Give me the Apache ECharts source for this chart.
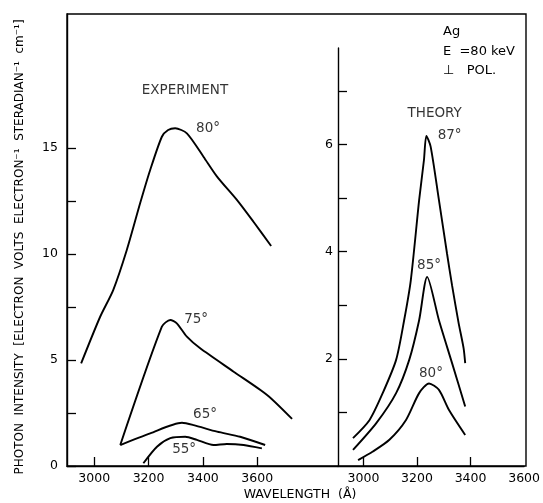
<!DOCTYPE html>
<html><head><meta charset="utf-8">
<script src="https://cdn.jsdelivr.net/npm/echarts@6/dist/echarts.min.js"></script>
<style>html,body{margin:0;padding:0;background:#fff}#c{width:543px;height:503px}</style>
</head><body><div id="c"></div>
<script>
// Experiment (left panel): [wavelength Å, intensity]
const exp80 = [[2952,4.84],[3022,7.04],[3070,8.30],[3120,10.19],[3169,12.39],[3206,13.96],[3249,15.53],[3272,15.85],[3298,15.93],[3341,15.69],[3402,14.59],[3452,13.65],[3525,12.55],[3586,11.52],[3651,10.38]];
const exp75 = [[3096,0.99],[3249,6.57],[3280,6.89],[3304,6.73],[3341,6.10],[3390,5.55],[3513,4.45],[3636,3.35],[3728,2.22]];
const exp65 = [[3096,0.99],[3206,1.54],[3323,2.04],[3366,1.93],[3452,1.62],[3537,1.38],[3629,0.99]];
const exp55 = [[3181,0.13],[3231,0.91],[3280,1.31],[3335,1.38],[3378,1.23],[3439,0.99],[3488,1.04],[3550,0.99],[3617,0.83]];
// Theory (right panel)
const th87 = [[2961,0.52],[3023,0.86],[3072,1.36],[3122,1.98],[3152,2.72],[3177,3.47],[3208,4.96],[3226,5.71],[3235,6.16],[3251,5.96],[3282,4.96],[3312,3.97],[3331,3.37],[3355,2.68],[3374,2.20],[3380,1.92]];
const th85 = [[2961,0.30],[3048,0.80],[3122,1.36],[3171,1.98],[3208,2.72],[3238,3.53],[3282,2.72],[3331,1.92],[3380,1.11]];
const th80 = [[2980,0.11],[3035,0.27],[3097,0.49],[3159,0.86],[3208,1.36],[3245,1.54],[3282,1.42],[3319,1.05],[3380,0.58]];
// Tick values
const leftXLabels = [3000,3200,3400,3600];
const leftYTicks = [0,2.5,5,7.5,10,12.5,15];
const leftYLabels = [0,5,10,15];
const rightXTicks = [3000,3200,3400];
const rightXLabels = [3000,3200,3400,3600];
const rightYTicks = [1,2,3,4,5,6,7];
const rightYLabels = [2,4,6];
// Annotations [wavelength, intensity, text]
const leftNotes = [[3334,17.69,'EXPERIMENT'],[3419,15.94,'80°'],[3375,6.89,'75°'],[3408,2.41,'65°'],[3331,0.8,'55°']];
const rightNotes = [[3266,6.57,'THEORY'],[3322,6.16,'87°'],[3245,3.75,'85°'],[3252,1.735,'80°']];

const FONT = 'DejaVu Sans';
const INK = '#000';
const lab = {color: INK, fontFamily: FONT, fontSize: 12.5, formatter: v => String(v)};
function line(data, xi){return {type:'line', xAxisIndex:xi, yAxisIndex:xi, data, smooth:0.25, symbol:'none', lineStyle:{color:INK, width:1.9}, silent:true};}
function notes(arr, xi){return {type:'scatter', xAxisIndex:xi, yAxisIndex:xi, symbolSize:0, silent:true,
  data: arr.map(a=>({value:[a[0],a[1]], name:a[2]})),
  label:{show:true, position:'inside', formatter:p=>p.name, color:INK, fontFamily:FONT, fontSize:13.5}};}
const axLine = {show:true, lineStyle:{color:INK, width:1.4}};
const axTick = {inside:true, length:9, lineStyle:{color:INK, width:1.3}};

const chart = echarts.init(document.getElementById('c'), null, {renderer:'canvas'});
chart.setOption({
  backgroundColor:'#fff',
  animation:false,
  grid:[
    {left:67, top:14, width:271, height:452},
    {left:338, top:48, width:188, height:418},
    {left:67, top:14, width:459, height:452, show:true, borderColor:INK, borderWidth:1.4, backgroundColor:'transparent'}
  ],
  xAxis:[
    {type:'value', gridIndex:0, min:2900, max:3897, splitLine:{show:false}, axisLine:axLine,
      axisTick:Object.assign({customValues:leftXLabels}, axTick), axisLabel:Object.assign({customValues:leftXLabels, margin:6}, lab)},
    {type:'value', gridIndex:1, min:2905, max:3600, splitLine:{show:false}, axisLine:axLine,
      axisTick:Object.assign({customValues:rightXTicks}, axTick), axisLabel:Object.assign({customValues:rightXLabels, margin:6, showMaxLabel:true}, lab)},
    {type:'value', gridIndex:2, show:false, min:0, max:1}
  ],
  yAxis:[
    {type:'value', gridIndex:0, min:0, max:21.32, splitLine:{show:false}, axisLine:axLine,
      axisTick:Object.assign({customValues:leftYTicks}, axTick), axisLabel:Object.assign({customValues:leftYLabels, margin:9}, lab)},
    {type:'value', gridIndex:1, min:0, max:7.8, splitLine:{show:false}, axisLine:axLine,
      axisTick:Object.assign({customValues:rightYTicks}, axTick), axisLabel:Object.assign({customValues:rightYLabels, margin:5}, lab)},
    {type:'value', gridIndex:2, show:false, min:0, max:1}
  ],
  series:[
    line(exp80,0), line(exp75,0), line(exp65,0), line(exp55,0),
    line(th87,1), line(th85,1), line(th80,1),
    notes(leftNotes,0), notes(rightNotes,1)
  ],
  graphic:[
    {type:'text', x:20, y:247, rotation:Math.PI/2, style:{text:'PHOTON  INTENSITY  [ELECTRON  VOLTS  ELECTRON⁻¹  STERADIAN⁻¹  cm⁻¹]', align:'center', verticalAlign:'middle', fill:INK, font:'12px "DejaVu Sans"'}},
    {type:'text', x:300, y:495, style:{text:'WAVELENGTH  (Å)', align:'center', verticalAlign:'middle', fill:INK, font:'12.5px "DejaVu Sans"'}},
    {type:'text', x:443, y:32, style:{text:'Ag', align:'left', verticalAlign:'middle', fill:INK, font:'13px "DejaVu Sans"'}},
    {type:'text', x:443, y:52, style:{text:'E  =80 keV', align:'left', verticalAlign:'middle', fill:INK, font:'13px "DejaVu Sans"'}},
    {type:'text', x:443, y:71, style:{text:'⊥   POL.', align:'left', verticalAlign:'middle', fill:INK, font:'13px "DejaVu Sans"'}}
  ]
});
</script></body></html>
